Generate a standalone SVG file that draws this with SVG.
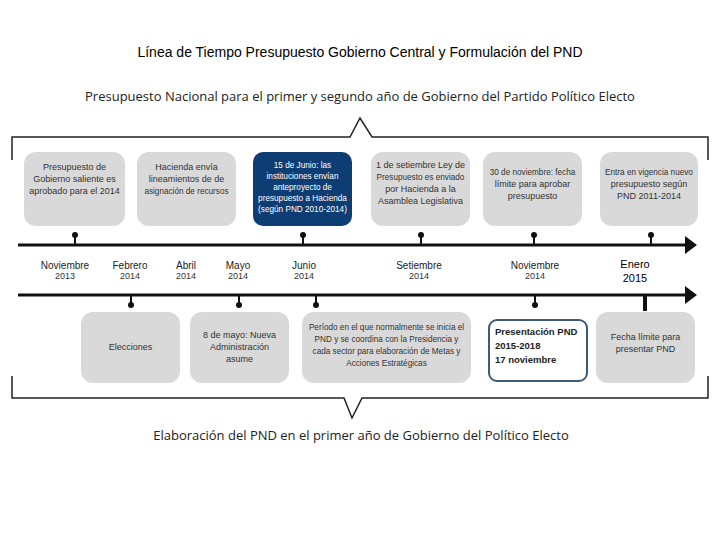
<svg xmlns="http://www.w3.org/2000/svg" width="720" height="540" viewBox="0 0 720 540">
<defs>
<style>
.box{fill:#d9d9d9}
.bt{font-family:"Liberation Sans Narrow","Liberation Sans",sans-serif;font-size:9px;fill:#333;text-anchor:middle}
.sm{font-size:8.2px}
.m{font-family:"Liberation Sans",sans-serif;font-size:10px;fill:#222;text-anchor:middle}
.y{font-family:"Liberation Sans",sans-serif;font-size:9px;fill:#333;text-anchor:middle}
.line{stroke:#111;stroke-width:3;fill:none}
.pin{stroke:#111;stroke-width:2}
.br{stroke:#222;stroke-width:1.5;fill:none}
.sub{font-family:"Open Sans",sans-serif;font-size:13px;fill:#222;text-anchor:middle}
</style>
<marker id="ah" markerWidth="5" markerHeight="6" refX="1" refY="3" orient="auto" markerUnits="strokeWidth"><path d="M0,0 L4,3 L0,6 Z" fill="#111"/></marker>
</defs>
<rect width="720" height="540" fill="#fff"/>
<text x="360" y="57" font-family="Liberation Sans, sans-serif" font-size="14" text-anchor="middle" fill="#000">Línea de Tiempo Presupuesto Gobierno Central y Formulación del PND</text>
<text x="360" y="101" class="sub">Presupuesto Nacional para el primer y segundo año de Gobierno del Partido Político Electo</text>
<text x="361" y="440" class="sub">Elaboración del PND en el primer año de Gobierno del Político Electo</text>
<g id="connectors">
<path class="br" d="M12,160 V137 H350 L360,118 L372,137 H708 V160"/>
<path class="br" d="M12,376 V398 H344 L352,418 L362,398 H708 V376"/>
<path class="line" d="M18,245 H688" marker-end="url(#ah)"/>
<path class="line" d="M18,295 H688" marker-end="url(#ah)"/>
<g class="pin">
<line x1="75" y1="235" x2="75" y2="245"/><line x1="303" y1="235" x2="303" y2="245"/><line x1="421" y1="235" x2="421" y2="245"/><line x1="534" y1="235" x2="534" y2="245"/><line x1="651" y1="235" x2="651" y2="245"/>
<line x1="131" y1="295" x2="131" y2="305"/><line x1="239" y1="295" x2="239" y2="305"/><line x1="316" y1="295" x2="316" y2="305"/><line x1="535" y1="295" x2="535" y2="305"/>
</g>
<g fill="#111">
<circle cx="75" cy="235" r="3"/><circle cx="303" cy="235" r="3"/><circle cx="421" cy="235" r="3"/><circle cx="534" cy="235" r="3"/><circle cx="651" cy="235" r="3"/>
<circle cx="131" cy="305" r="3"/><circle cx="239" cy="305" r="3"/><circle cx="316" cy="305" r="3"/><circle cx="535" cy="305" r="3"/>
</g>
<line x1="645" y1="295" x2="645" y2="311" stroke="#111" stroke-width="4"/>
</g>
<g id="months">
<text x="65" y="269" class="m">Noviembre</text><text x="65" y="279" class="y">2013</text>
<text x="130" y="269" class="m">Febrero</text><text x="130" y="279" class="y">2014</text>
<text x="186" y="269" class="m">Abril</text><text x="186" y="279" class="y">2014</text>
<text x="238" y="269" class="m">Mayo</text><text x="238" y="279" class="y">2014</text>
<text x="304" y="269" class="m">Junio</text><text x="304" y="279" class="y">2014</text>
<text x="419" y="269" class="m">Setiembre</text><text x="419" y="279" class="y">2014</text>
<text x="535" y="269" class="m">Noviembre</text><text x="535" y="279" class="y">2014</text>
<text x="635" y="268" font-family="Liberation Sans, sans-serif" font-size="11" fill="#000" text-anchor="middle">Enero</text>
<text x="635" y="282" font-family="Liberation Sans, sans-serif" font-size="11" fill="#000" text-anchor="middle">2015</text>
</g>
<g id="t1"><rect class="box" x="24" y="152" width="101" height="74" rx="12"/><text class="bt" x="74.5" y="170">Presupuesto de</text><text class="bt" x="74.5" y="182">Gobierno saliente es</text><text class="bt" x="74.5" y="194">aprobado para el 2014</text></g>
<g id="t2"><rect class="box" x="137" y="152" width="99" height="74" rx="12"/><text class="bt" x="186.5" y="170">Hacienda envía</text><text class="bt" x="186.5" y="182">lineamientos de de</text><text class="bt sm" x="186.5" y="194">asignación de recursos</text></g>
<g id="t3"><rect x="253" y="152" width="99" height="74" rx="10" fill="#0d3d73"/><g class="bt sm" style="fill:#fff"><text x="302.5" y="168">15 de Junio: las</text><text x="302.5" y="179">instituciones envían</text><text x="302.5" y="190">anteproyecto de</text><text x="302.5" y="201">presupuesto a Hacienda</text><text x="302.5" y="212">(según PND 2010-2014)</text></g></g>
<g id="t4"><rect class="box" x="371" y="152" width="99" height="74" rx="12"/><text class="bt" x="420.5" y="168">1 de setiembre Ley de</text><text class="bt sm" x="420.5" y="180">Presupuesto es enviado</text><text class="bt" x="420.5" y="192">por Hacienda a la</text><text class="bt" x="420.5" y="204">Asamblea Legislativa</text></g>
<g id="t5"><rect class="box" x="483" y="152" width="99" height="74" rx="12"/><text class="bt sm" x="532.5" y="175">30 de noviembre: fecha</text><text class="bt" x="532.5" y="187">límite para aprobar</text><text class="bt" x="532.5" y="199">presupuesto</text></g>
<g id="t6"><rect class="box" x="600" y="152" width="98" height="74" rx="12"/><text class="bt sm" x="649" y="175">Entra en vigencia nuevo</text><text class="bt" x="649" y="187">presupuesto según</text><text class="bt" x="649" y="199">PND 2011-2014</text></g>
<g id="b1"><rect class="box" x="81" y="312" width="99" height="71" rx="12"/><text class="bt" x="130.5" y="350">Elecciones</text></g>
<g id="b2"><rect class="box" x="190" y="312" width="99" height="71" rx="12"/><text class="bt" x="239.5" y="338">8 de mayo: Nueva</text><text class="bt" x="239.5" y="350">Administración</text><text class="bt" x="239.5" y="362">asume</text></g>
<g id="b3"><rect class="box" x="302" y="312" width="169" height="71" rx="12"/><g class="bt sm"><text x="386.5" y="330">Período en el que normalmente se inicia el</text><text x="386.5" y="342">PND y se coordina con la Presidencia y</text><text x="386.5" y="354">cada sector para elaboración de Metas y</text><text x="386.5" y="366">Acciones Estratégicas</text></g></g>
<g id="b4"><rect x="489" y="320" width="98" height="61" rx="8" fill="#fff" stroke="#3d5a7a" stroke-width="2"/><g font-family="Liberation Sans, sans-serif" font-size="9.5" font-weight="bold" fill="#222"><text x="495" y="335">Presentación PND</text><text x="495" y="349">2015-2018</text><text x="495" y="363">17 noviembre</text></g></g>
<g id="b5"><rect class="box" x="596" y="312" width="99" height="71" rx="12"/><text class="bt" x="645.5" y="340">Fecha límite para</text><text class="bt" x="645.5" y="352">presentar PND</text></g>
</svg>
